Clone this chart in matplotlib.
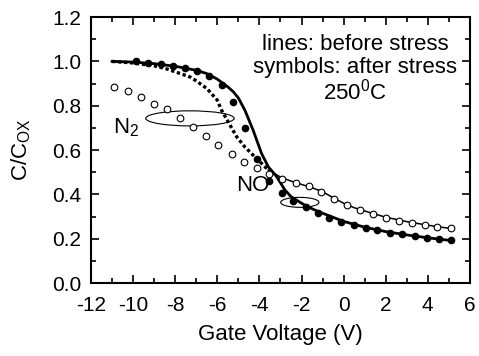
import matplotlib
matplotlib.use('Agg')
import matplotlib.pyplot as plt
from matplotlib.patches import Ellipse
from matplotlib.ticker import MultipleLocator

# symbols: after stress
no_after_v = [-9.86, -9.28, -8.69, -8.12, -7.54, -6.98, -6.38, -5.79, -5.24, -4.69, -4.1, -3.53, -2.94,
              -2.39, -1.8, -1.24, -0.67, -0.1, 0.49, 1.06, 1.61, 2.2, 2.78, 3.37, 3.94, 4.52, 5.08]
no_after_c = [1.00, 0.994, 0.988, 0.98, 0.971, 0.956, 0.932, 0.892, 0.818, 0.70, 0.559, 0.459, 0.407,
              0.371, 0.341, 0.317, 0.295, 0.277, 0.262, 0.248, 0.238, 0.227, 0.22, 0.212, 0.204, 0.20, 0.194]

n2_after_v = [-10.89, -10.22, -9.63, -9.0, -8.39, -7.77, -7.16, -6.55, -5.95, -5.32, -4.72, -4.1, -3.53,
              -2.92, -2.28, -1.66, -1.06, -0.45, 0.16, 0.77, 1.4, 2.0, 2.63, 3.24, 3.86, 4.46, 5.08]
n2_after_c = [0.883, 0.867, 0.838, 0.81, 0.784, 0.744, 0.702, 0.663, 0.621, 0.582, 0.546, 0.517, 0.492,
              0.469, 0.45, 0.439, 0.412, 0.38, 0.35, 0.328, 0.31, 0.295, 0.281, 0.272, 0.262, 0.254, 0.247]

# lines: before stress
no_before_v = [-11, -10, -9, -8, -7, -6.5, -6, -5.5, -5.24, -5, -4.69, -4.3, -3.9, -3.58, -3.18, -2.79,
               -2.5, -2, -1.5, -1, 0, 1, 2, 3, 4, 5]
no_before_c = [1.0, 0.997, 0.99, 0.978, 0.96, 0.945, 0.92, 0.885, 0.863, 0.835, 0.78, 0.69, 0.585, 0.525,
               0.48, 0.42, 0.39, 0.36, 0.335, 0.315, 0.278, 0.252, 0.232, 0.217, 0.204, 0.193]

n2_before_v = [-11, -10, -9, -8.4, -8, -7.3, -7, -6.5, -6, -5.8, -5.5, -5.08, -4.7, -4.3, -3.9, -3.58]
n2_before_c = [1.0, 0.993, 0.98, 0.966, 0.953, 0.93, 0.912, 0.878, 0.825, 0.78, 0.73, 0.66, 0.615, 0.577,
               0.54, 0.51]
n2_before_v2 = [-3.58, -3, -2.5, -2, -1.5, -1, -0.5, 0, 0.5, 1, 2, 3, 4, 5]
n2_before_c2 = [0.51, 0.478, 0.46, 0.445, 0.43, 0.412, 0.385, 0.36, 0.34, 0.325, 0.297, 0.277, 0.261, 0.247]

x_ticks = [-12, -10, -8, -6, -4, -2, 0, 2, 4, 6]
x_tick_labels = ['-12', '-10', '-8', '-6', '-4', '-2', '0', '2', '4', '6']

plt.rcParams['font.family'] = ['Liberation Sans', 'DejaVu Sans']
plt.rcParams['mathtext.fontset'] = 'custom'
plt.rcParams['mathtext.rm'] = 'Liberation Sans'
plt.rcParams['mathtext.it'] = 'Liberation Sans'

fig = plt.figure(figsize=(4.79, 3.56), dpi=100)
ax = fig.add_axes([0.19, 0.205, 0.791, 0.747])

ax.plot(no_before_v, no_before_c, color='black', lw=2)
ax.plot(n2_before_v, n2_before_c, color='black', lw=2.4, ls=(0, (1, 0.8)))
ax.plot(n2_before_v2, n2_before_c2, color='black', lw=1.1)
ax.plot(no_after_v, no_after_c, 'o', color='black', ms=4.5)
ax.plot(n2_after_v, n2_after_c, 'o', mfc='white', mec='black', mew=0.8, ms=4.8)

ax.add_patch(Ellipse((-7.3, 0.743), 4.2, 0.068, fill=False, lw=0.8, ec='black'))
ax.add_patch(Ellipse((-2.08, 0.364), 1.82, 0.045, fill=False, lw=0.8, ec='black'))

ax.text(-10.95, 0.675, r'N$_2$', fontsize=16)
ax.text(-5.1, 0.44, 'NO', fontsize=16, va='center')
ax.text(0.55, 1.075, 'lines: before stress', fontsize=16, ha='center', va='center')
ax.text(0.55, 0.972, 'symbols: after stress', fontsize=16, ha='center', va='center')
ax.text(0.55, 0.862, r'250$^0$C', fontsize=16, ha='center', va='center')

ax.set_xlim(-12, 6)
ax.set_ylim(0, 1.2)
ax.set_xticks(x_ticks)
ax.set_xticklabels(x_tick_labels)
ax.xaxis.set_minor_locator(MultipleLocator(1))
ax.yaxis.set_major_locator(MultipleLocator(0.2))
ax.yaxis.set_minor_locator(MultipleLocator(0.1))
ax.yaxis.set_major_formatter(matplotlib.ticker.FormatStrFormatter('%.1f'))
ax.tick_params(which='both', direction='in', top=True, right=True, labelsize=15, width=1.2)
ax.tick_params(which='major', length=6)
ax.tick_params(which='minor', length=3.5)
ax.tick_params(axis='x', pad=9)
ax.tick_params(axis='y', pad=7)
for s in ax.spines.values():
    s.set_linewidth(1.5)

ax.set_xlabel('Gate Voltage (V)', fontsize=16, labelpad=7)
ax.set_ylabel(r'C/C$_{\mathrm{OX}}$', fontsize=16, labelpad=14)

fig.savefig('out.png', dpi=100)
